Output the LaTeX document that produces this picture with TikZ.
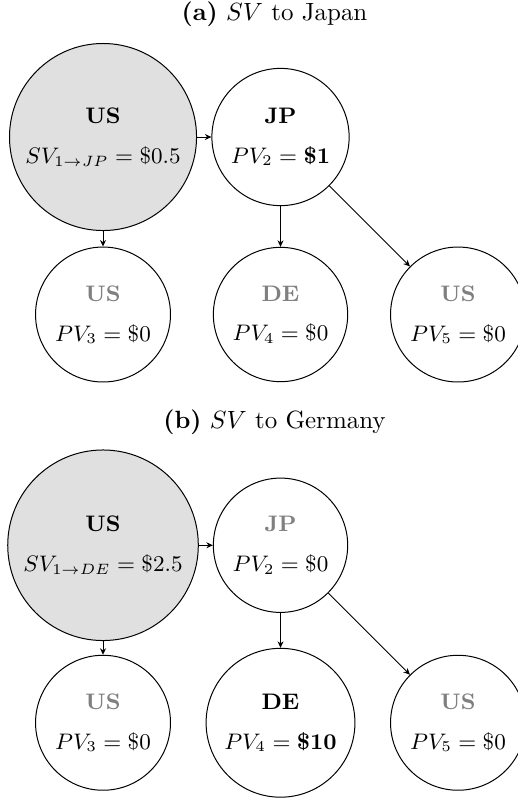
\documentclass[tikz,border=0pt]{standalone}
\usepackage{tikz}
\usetikzlibrary{arrows.meta}

\newcommand{\ctyon}[1]{\textbf{#1}}
\newcommand{\ctyoff}[1]{\textcolor{gray}{\textbf{#1}}}

\begin{document}
\begin{tikzpicture}[>={Stealth[length=2.6pt,width=2.4pt]},
  cty/.style={circle,draw,align=center,font=\small},
  root/.style={cty,fill=black!12},
  caption/.style={font=\normalsize}]
  \useasboundingbox (-1.451,-9.352) rectangle (5.831,1.930);
  % (a) SV to Japan
  \node[caption] (capa) at (2.415,1.73) {\textbf{(a)} $SV$ to Japan};
  \node[root] (usa1) at (0,0) {\ctyon{US}\\[5pt]$SV_{1\to JP} = \$0.5$};
  \node[cty] (jpa2) at (2.5,0) {\ctyon{JP}\\[5pt]$PV_2 = \textbf{\$1}$};
  \node[cty] (usa3) at (0,-2.5) {\ctyoff{US}\\[5pt]$PV_3 = \$0$};
  \node[cty] (dea4) at (2.5,-2.5) {\ctyoff{DE}\\[5pt]$PV_4 = \$0$};
  \node[cty] (usa5) at (5,-2.5) {\ctyoff{US}\\[5pt]$PV_5 = \$0$};
  \draw[->] (usa1) -- (jpa2);
  \draw[->] (usa1) -- (usa3);
  \draw[->] (jpa2) -- (dea4);
  \draw[->] (jpa2) -- (usa5);
  % (b) SV to Germany
  \node[caption] (capb) at (2.415,-4.02) {\textbf{(b)} $SV$ to Germany};
  \node[root] (usb1) at (0,-5.75) {\ctyon{US}\\[5pt]$SV_{1\to DE} = \$2.5$};
  \node[cty] (jpb2) at (2.5,-5.75) {\ctyoff{JP}\\[5pt]$PV_2 = \$0$};
  \node[cty] (usb3) at (0,-8.25) {\ctyoff{US}\\[5pt]$PV_3 = \$0$};
  \node[cty] (deb4) at (2.5,-8.25) {\ctyon{DE}\\[5pt]$PV_4 = \textbf{\$10}$};
  \node[cty] (usb5) at (5,-8.25) {\ctyoff{US}\\[5pt]$PV_5 = \$0$};
  \draw[->] (usb1) -- (jpb2);
  \draw[->] (usb1) -- (usb3);
  \draw[->] (jpb2) -- (deb4);
  \draw[->] (jpb2) -- (usb5);
\end{tikzpicture}
\end{document}
